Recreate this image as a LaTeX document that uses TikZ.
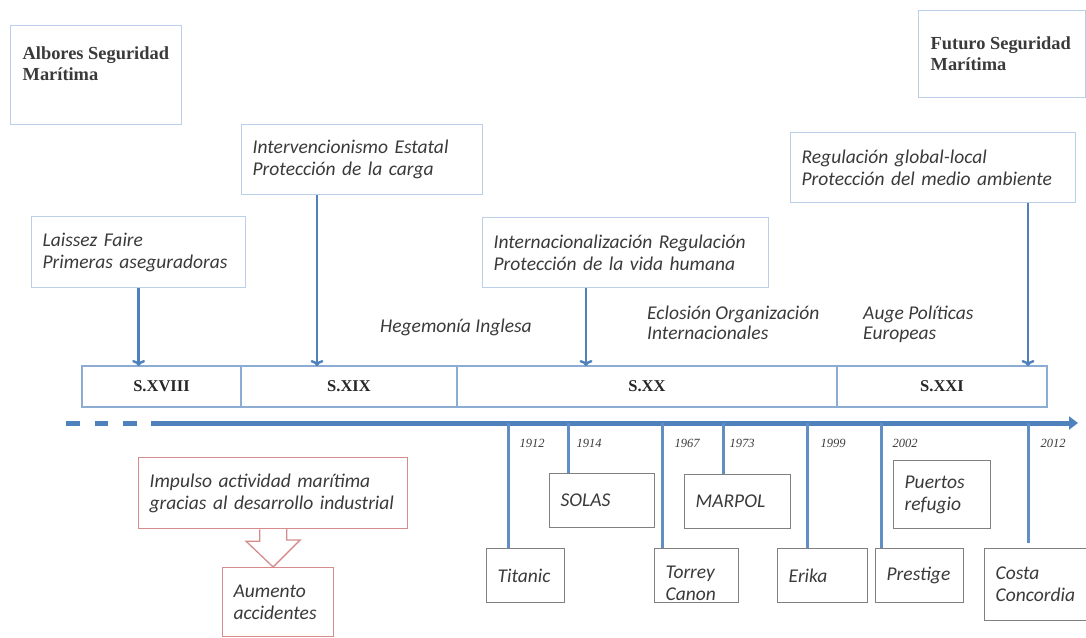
\documentclass[tikz,border=0pt]{standalone}
\usepackage{fontspec}
\setmainfont{Liberation Serif}
\newfontfamily\calibri{Carlito}
\usepackage{tikz}
\usetikzlibrary{arrows.meta}
\definecolor{lineBlue}{RGB}{79,129,189}
\definecolor{paleBlue}{RGB}{188,207,232}
\definecolor{midBlue}{RGB}{140,172,212}
\definecolor{boxGray}{RGB}{128,128,128}
\definecolor{paleRed}{RGB}{214,140,140}
\definecolor{ink}{RGB}{58,58,58}
\tikzset {
	epoch/.style={rectangle, draw=paleBlue, line width=1.3pt, anchor=north west, text=ink, inner xsep=12pt,
					font=\fontsize{18.4}{21}\selectfont\bfseries},
	idea/.style={rectangle, draw=paleBlue, line width=1.3pt, anchor=north west, align=left, text=ink,
					inner xsep=11pt, inner ysep=0pt, font=\calibri\itshape\fontsize{19.5}{22}\selectfont},
	period/.style={rectangle, draw=midBlue, line width=1.2pt, anchor=north west, outer sep=0pt,
					minimum height=41pt, font=\fontsize{16.5}{18}\selectfont\bfseries, text=black!85},
	event/.style={idea, draw=boxGray},
	cause/.style={idea, draw=paleRed},
	causeArrow/.style={draw=paleRed, line width=1.3pt, line join=miter},
	note/.style={anchor=west, align=left, text=ink, inner sep=0pt, font=\calibri\itshape\fontsize{19.5}{20}\selectfont},
	year/.style={text=ink, inner sep=0pt, font=\itshape\fontsize{12.5}{14}\selectfont},
	pointer/.style={draw=lineBlue, line width=2.4pt, -{To[length=6pt, width=13pt]}},
	yearTick/.style={draw=lineBlue!90, line width=3pt},
	timeline/.style={draw=lineBlue, line width=5pt}
}
\begin{document}
\begin{tikzpicture}[x=1pt, y=-1pt]
	\useasboundingbox (0,0) rectangle (1086,637);

	\node[epoch, inner ysep=21pt] (albores) at (10,25) {\parbox[t][57pt][t]{147pt}{Albores Seguridad\\Marítima}};
	\node[epoch, inner ysep=26pt] (futuro) at (918,10) {\parbox[t][35pt][t]{143pt}{Futuro Seguridad\\Marítima}};

	\node[idea, text width=192pt, minimum height=71pt] (laissez) at (31,216) {Laissez Faire\\Primeras aseguradoras};
	\node[idea, text width=219pt, minimum height=70pt] (interv) at (241,124) {Intervencionismo Estatal\\Protección de la carga};
	\node[idea, text width=264pt, minimum height=70pt] (internac) at (482,217) {Internacionalización Regulación\\Protección de la vida humana};
	\node[idea, text width=263pt, minimum height=70pt] (regul) at (790,132) {Regulación global-local\\Protección del medio ambiente};

	\node[note] (hegemonia) at (380,327) {Hegemonía Inglesa};
	\node[note] (eclosion) at (647,323) {Eclosión Organización\\Internacionales};
	\node[note] (auge) at (863,324) {Auge Políticas\\Europeas};

	\node[period, minimum width=159pt] (s18) at (82,366) {S.XVIII};
	\node[period, minimum width=216pt] (s19) at (s18.north east) {S.XIX};
	\node[period, minimum width=380pt] (s20) at (s19.north east) {S.XX};
	\node[period, minimum width=210pt] (s21) at (s20.north east) {S.XXI};

	\coordinate (c19) at (317,366);
	\coordinate (c20) at (586,366);
	\coordinate (c21) at (1028,366);
	\draw[pointer] (laissez.south) -- (laissez.south |- s18.north);
	\draw[pointer] (interv.south -| c19) -- (c19);
	\draw[pointer] (internac.south -| c20) -- (c20);
	\draw[pointer] (regul.south -| c21) -- (c21);

	\coordinate (dashStart) at (66,423);
	\coordinate (lineStart) at (151,423);
	\coordinate (lineEnd) at (1078,423);
	\draw[timeline, dash pattern=on 13.5pt off 15pt] (dashStart) -- (lineStart);
	\draw[timeline, -{Triangle[length=9pt, width=13pt]}] (lineStart) -- (lineEnd);

	\foreach \yr/\x/\lx in {1912/508/532, 1914/568/589, 1967/662/687, 1973/723/742, 1999/807/833, 2002/881/905, 2012/1028/1053} {
		\coordinate (t\yr) at (\x,423);
		\node[year] (y\yr) at (\lx,443) {\yr};
	}

	\node[event, text width=56pt, minimum height=54pt] (titanic) at (486,548) {Titanic};
	\node[event, text width=83pt, minimum height=54pt] (solas) at (549,473) {SOLAS};
	\node[event, inner ysep=17pt] (torrey) at (654,548) {\parbox[t][20pt][t]{62pt}{Torrey\\Canon}};
	\node[event, text width=84pt, minimum height=54pt] (marpol) at (684,474) {MARPOL};
	\node[event, text width=68pt, minimum height=54pt] (erika) at (777,548) {Erika};
	\node[event, text width=66pt, minimum height=54pt] (prestige) at (875,548) {Prestige};
	\node[event, text width=75pt, minimum height=68pt] (puertos) at (893,460) {Puertos\\refugio};
	\node[event, text width=80pt, minimum height=72pt] (costa) at (984,548) {Costa\\Concordia};

	\draw[yearTick] (t1912) -- (t1912 |- titanic.north);
	\draw[yearTick] (t1914) -- (t1914 |- solas.north);
	\draw[yearTick] (t1967) -- (t1967 |- torrey.north);
	\draw[yearTick] (t1973) -- (t1973 |- marpol.north);
	\draw[yearTick] (t1999) -- (t1999 |- erika.north);
	\draw[yearTick] (t2002) -- (t2002 |- prestige.north);
	\draw[yearTick] (t2012) -- ([yshift=5pt]costa.north -| t2012);

	\node[cause, text width=247pt, minimum height=71pt] (impulso) at (138,457) {Impulso actividad marítima\\gracias al desarrollo industrial};
	\node[cause, text width=89pt, minimum height=69pt] (aumento) at (222,567) {Aumento\\accidentes};
	\draw[causeArrow] ([xshift=-13.5pt]impulso.south) -- ++(0,12) -- ++(-13.5,0) -- (impulso.south |- aumento.north)
		-- ++(27,-27) -- ++(-13.5,0) -- ++(0,-12);
\end{tikzpicture}
\end{document}
